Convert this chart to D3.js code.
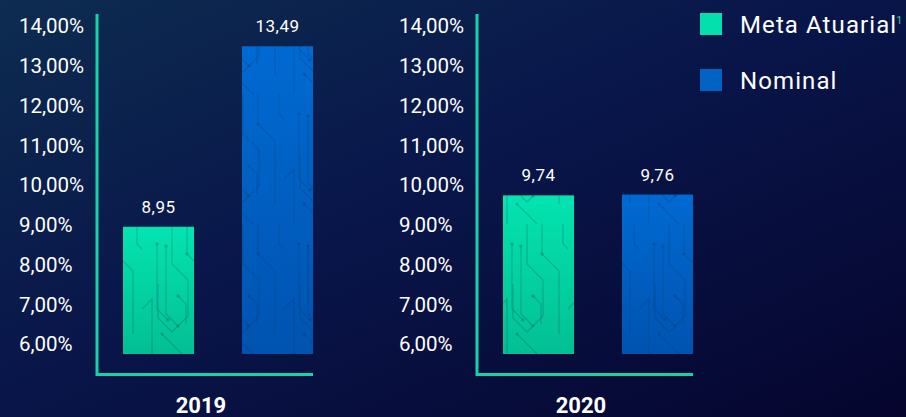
<!DOCTYPE html>
<html>
<head>
<meta charset="utf-8">
<script src="https://cdn.jsdelivr.net/npm/d3@7"></script>
<style>
html,body{margin:0;padding:0;background:#07103a;}
svg{display:block;}
</style>
</head>
<body>
<svg id="chart" width="906" height="417"></svg>
<script>
// ---- data ----
const years = ["2019", "2020"];
const seriesNames = ["Meta Atuarial", "Nominal"];
const metaAtuarial = [8.95, 9.74];
const nominal = [13.49, 9.76];
const tickValues = [6, 7, 8, 9, 10, 11, 12, 13, 14];

const W = 906, H = 417;
const svg = d3.select("#chart");
const defs = svg.append("defs");

// background
const bg = defs.append("linearGradient").attr("id", "bg").attr("x1", "0").attr("y1", "0").attr("x2", "1").attr("y2", "1");
bg.append("stop").attr("offset", "0").attr("stop-color", "#0d2c50");
bg.append("stop").attr("offset", "0.45").attr("stop-color", "#09164a");
bg.append("stop").attr("offset", "1").attr("stop-color", "#05052e");
svg.append("rect").attr("width", W).attr("height", H).attr("fill", "url(#bg)");

// bar gradients
const gG = defs.append("linearGradient").attr("id", "gGreen").attr("x1", 0).attr("y1", 0).attr("x2", 0).attr("y2", 1);
gG.append("stop").attr("offset", 0).attr("stop-color", "#03e4b0");
gG.append("stop").attr("offset", 1).attr("stop-color", "#03bf93");
const gB = defs.append("linearGradient").attr("id", "gBlue").attr("x1", 0).attr("y1", 0).attr("x2", 0).attr("y2", 1);
gB.append("stop").attr("offset", 0).attr("stop-color", "#006ad2");
gB.append("stop").attr("offset", 1).attr("stop-color", "#0053b0");

// circuit-like decorative pattern
const pat = defs.append("pattern").attr("id", "circuit").attr("patternUnits", "userSpaceOnUse")
  .attr("width", 71).attr("height", 130).attr("y", 354);
const cp = [
  "M30,0 V40 L46,56 V92 L30,108 L16,94 V60",
  "M45,0 V30 L62,47 V110",
  "M15,20 V85 L26,96",
  "M24,22 V90 L36,102",
  "M0,85 L10,75 V130",
  "M36,72 L44,80 V100",
  "M20,110 L40,130",
  "M66,0 V20 L71,25"
];
pat.selectAll("path").data(cp).join("path").attr("d", d => d)
  .attr("fill", "none").attr("stroke", "rgba(0,40,80,0.2)").attr("stroke-width", 1.3);
pat.selectAll("circle").data([[15,20],[24,22],[45,30],[36,72],[26,96],[36,102],[20,110]]).join("circle")
  .attr("cx", d => d[0]).attr("cy", d => d[1]).attr("r", 1.8).attr("fill", "rgba(0,40,80,0.22)");

// ---- scales ----
const y = d3.scaleLinear().domain([5.75, 14]).range([354, 26]);
const panelX = d3.scalePoint().domain(years).range([97, 477]);
const colors = ["url(#gGreen)", "url(#gBlue)"];
const legendColors = ["#03e0ad", "#0063c4"];
const locale = d3.formatLocale({decimal: ",", thousands: ".", grouping: [3], currency: ["R$", ""]});
const fmt = locale.format(".2f");

const axisColor = "#17d4a6";

years.forEach((yr, i) => {
  const ax = panelX(yr);
  const g = svg.append("g");
  const xb = d3.scaleBand().domain(seriesNames).range([ax + 26, ax + 216]).paddingInner(0.403).paddingOuter(0);
  const vals = [metaAtuarial[i], nominal[i]];

  // tick labels
  g.selectAll("text.tick").data(tickValues).join("text")
    .attr("class", "tick")
    .attr("x", ax - 78)
    .attr("y", d => y(d))
    .attr("dy", "0.36em")
    .attr("fill", "#ffffff")
    .attr("font-family", "Roboto, sans-serif")
    .attr("font-size", 20.5)
    .text(d => fmt(d) + "%");

  // bars
  g.selectAll("rect.bar").data(vals).join("rect")
    .attr("class", "bar")
    .attr("x", (d, j) => xb(seriesNames[j]))
    .attr("y", d => y(d))
    .attr("width", xb.bandwidth())
    .attr("height", d => y(5.75) - y(d))
    .attr("fill", (d, j) => colors[j]);
  g.selectAll("rect.pat").data(vals).join("rect")
    .attr("class", "pat")
    .attr("x", (d, j) => xb(seriesNames[j]))
    .attr("y", d => y(d))
    .attr("width", xb.bandwidth())
    .attr("height", d => Math.max(0, y(5.75) - y(d)))
    .attr("fill", "url(#circuit)");

  // value labels
  g.selectAll("text.val").data(vals).join("text")
    .attr("class", "val")
    .attr("x", (d, j) => xb(seriesNames[j]) + xb.bandwidth() / 2)
    .attr("y", d => y(d) - 14)
    .attr("text-anchor", "middle")
    .attr("fill", "#ffffff")
    .attr("font-family", "Roboto, sans-serif")
    .attr("font-size", 17)
    .attr("letter-spacing", 0.5)
    .text(d => fmt(d));

  // axis lines
  g.append("path")
    .attr("d", `M${ax},14 V${374.5} H${ax + 216}`)
    .attr("fill", "none")
    .attr("stroke", axisColor)
    .attr("stroke-width", 3);

  // year label
  g.append("text")
    .attr("x", ax + 104)
    .attr("y", 413)
    .attr("text-anchor", "middle")
    .attr("fill", "#ffffff")
    .attr("font-family", "Roboto, sans-serif")
    .attr("font-weight", "bold")
    .attr("font-size", 22)
    .text(yr);
});

// legend
const lg = svg.append("g").attr("transform", "translate(700,13)");
const li = lg.selectAll("g").data(seriesNames).join("g")
  .attr("transform", (d, i) => `translate(0,${i * 56})`);
li.append("rect").attr("width", 22).attr("height", 22).attr("fill", (d, i) => legendColors[i]);
const lt = li.append("text")
  .attr("x", 40).attr("y", 20)
  .attr("fill", "#ffffff")
  .attr("font-family", "Roboto, sans-serif")
  .attr("font-size", 24)
  .attr("letter-spacing", 1.1)
  .text(d => d);
lt.filter((d, i) => i === 0).append("tspan")
  .attr("dy", -9).attr("dx", -1)
  .attr("font-size", 11)
  .attr("fill", "#17d4a6")
  .attr("letter-spacing", 0)
  .text("1");
</script>
</body>
</html>
